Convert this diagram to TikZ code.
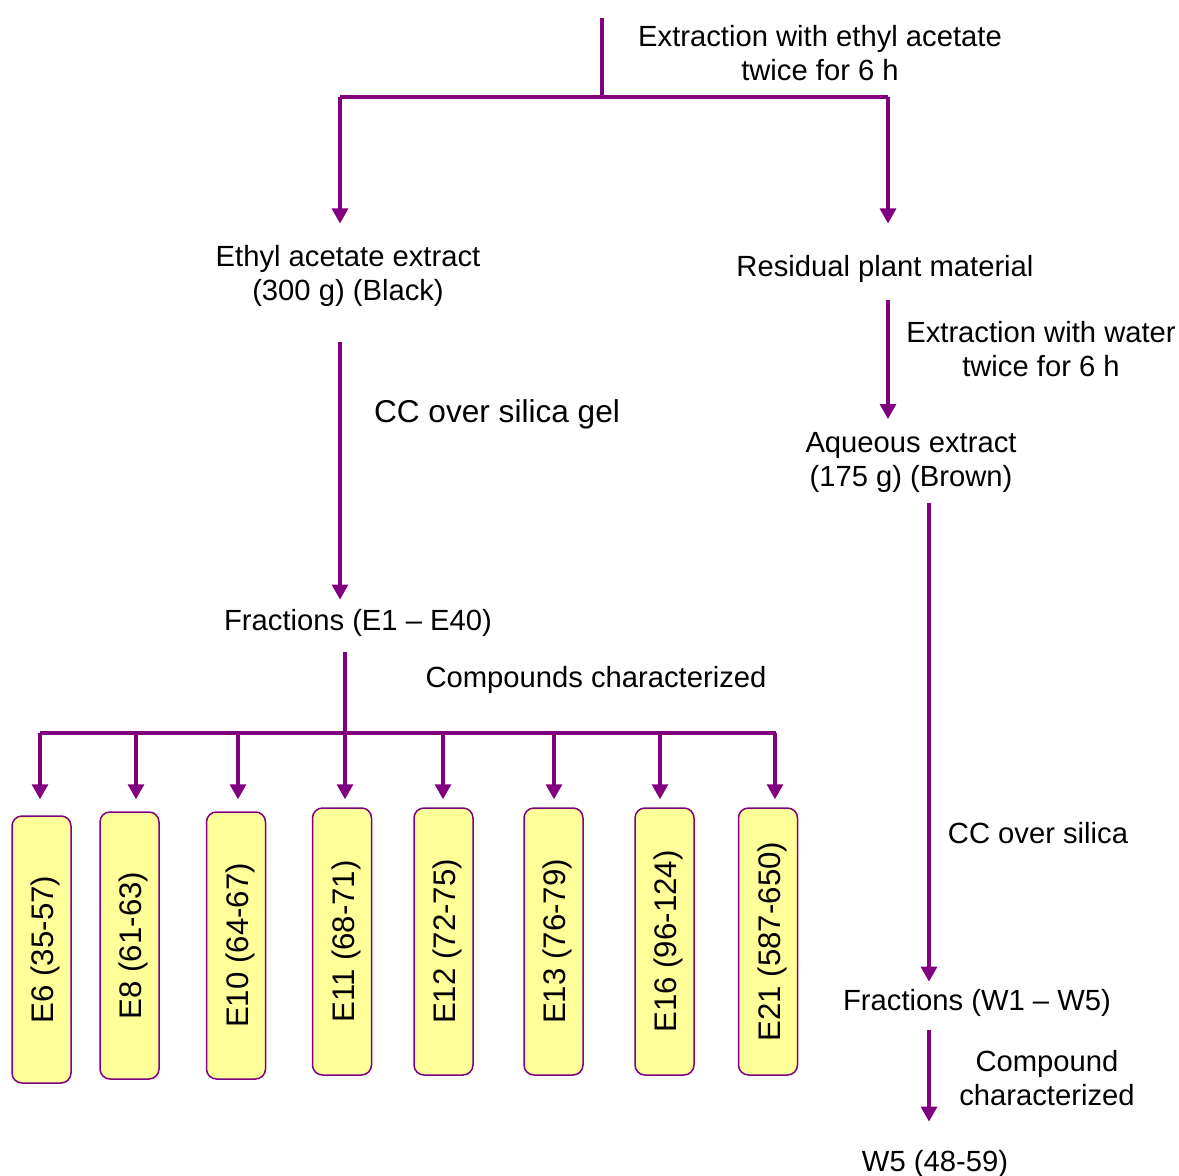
\documentclass[tikz,border=0pt]{standalone}
\usepackage{fontspec}
\setmainfont{Liberation Sans}
\usetikzlibrary{arrows.meta}
\definecolor{vio}{HTML}{800080}
\definecolor{paleyellow}{HTML}{FFFF99}

\begin{document}
\begin{tikzpicture}[x=0.5pt, y=-0.5pt,
		txt/.style={inner sep=0pt, align=center, font={\fontsize{14.6}{17}\selectfont}},
		bigtxt/.style={txt, font={\fontsize{15.8}{18}\selectfont}},
		pipe/.style={draw=vio, line width=1.6pt},
		flow/.style={pipe, -{Triangle[width=8pt,length=7.5pt]}},
		frac/.style={draw=vio, line width=0.75pt, fill=paleyellow, rounded corners=5pt, rotate=90,
			minimum width=133.5pt, minimum height=29.5pt, inner sep=0pt, text height=12pt, text depth=0pt,
			font={\fontsize{15.6}{18}\selectfont}}]
			%%%%% START %%%%%
			
			\useasboundingbox (0,0) rectangle (1179,1176);
			
			\coordinate (top) at (602,18);
			\coordinate (split) at (602,97);
			\coordinate (sl) at (340,97);
			\coordinate (sr) at (888,97);
			\coordinate (colw) at (929,0);
			
			\node[txt] (ext1) at (820,53) {Extraction with ethyl acetate\\twice for 6 h};
			\node[txt] (eae) at (348,276) {Ethyl acetate extract\\(300 g) (Black)};
			\node[txt] (rpm) at (885,269) {Residual plant material};
			\node[txt] (ext2) at (1041,349) {Extraction with water\\twice for 6 h};
			\node[txt] (aq) at (911,462) {Aqueous extract\\(175 g) (Brown)};
			\node[txt] (ccs) at (1038,833) {CC over silica};
			\node[txt] (fw) at (977,1003) {Fractions (W1 – W5)};
			\node[txt] (cpd) at (1047,1078) {Compound\\characterized};
			\node[txt] (w5) at (935,1164) {W5 (48-59)};
			\node[bigtxt] (ccg) at (497,414) {CC over silica gel};
			\node[txt] (fe) at (358,623) {Fractions (E1 – E40)};
			\node[txt] (cpds) at (596,680) {Compounds characterized};
			
			\draw[pipe] (top) -- (split);
			\draw[pipe] (sl) -- (sr);
			\draw[flow, shorten >=10.75pt] (sl) -- (sl |- eae.north);
			\draw[flow, shorten >=15.75pt] (sr) -- (sr |- rpm.north);
			\draw[flow, shorten <=8.7pt, shorten >=6.25pt] (rpm.south -| sr) -- (aq.north -| sr);
			\draw[flow, shorten <=5.2pt, shorten >=3.7pt] (aq.south -| colw) -- (fw.north -| colw);
			\draw[flow, shorten <=6.7pt, shorten >=14.2pt] (fw.south -| colw) -- (w5.north -| colw);
			\draw[flow, shorten <=17.7pt, shorten >=4.7pt] (eae.south -| sl) -- (fe.north -| sl);
			
			% fractions from the ethyl acetate column
			\coordinate (barl) at (40,733);
			\coordinate (barr) at (776,733);
			\draw[pipe] (barl) -- (barr);
			\foreach \nm/\lbl/\bx/\by/\ax/\gap in {e6/E6 (35-57)/41.5/949.5/40/8, e8/E8 (61-63)/129.5/945.5/136/6,
				e10/E10 (64-67)/236/945.5/238/6, e11/E11 (68-71)/342/941.5/345/4, e12/E12 (72-75)/443.5/941.5/443/4,
				e13/E13 (76-79)/553.5/941.5/554/4, e16/E16 (96-124)/664.5/941.5/660/4, e21/E21 (587-650)/768/941.5/775/4}{
				\node[frac] (\nm) at (\bx,\by) {\lbl};
				\coordinate (b\nm) at (\ax,733);
				\draw[flow, shorten >=\gap pt] (b\nm) -- (b\nm |- \nm.east);
			}
			\draw[pipe, shorten <=7.7pt] (fe.south -| be11) -- (be11);
			
			%%%%% END %%%%%
\end{tikzpicture}
\end{document}
